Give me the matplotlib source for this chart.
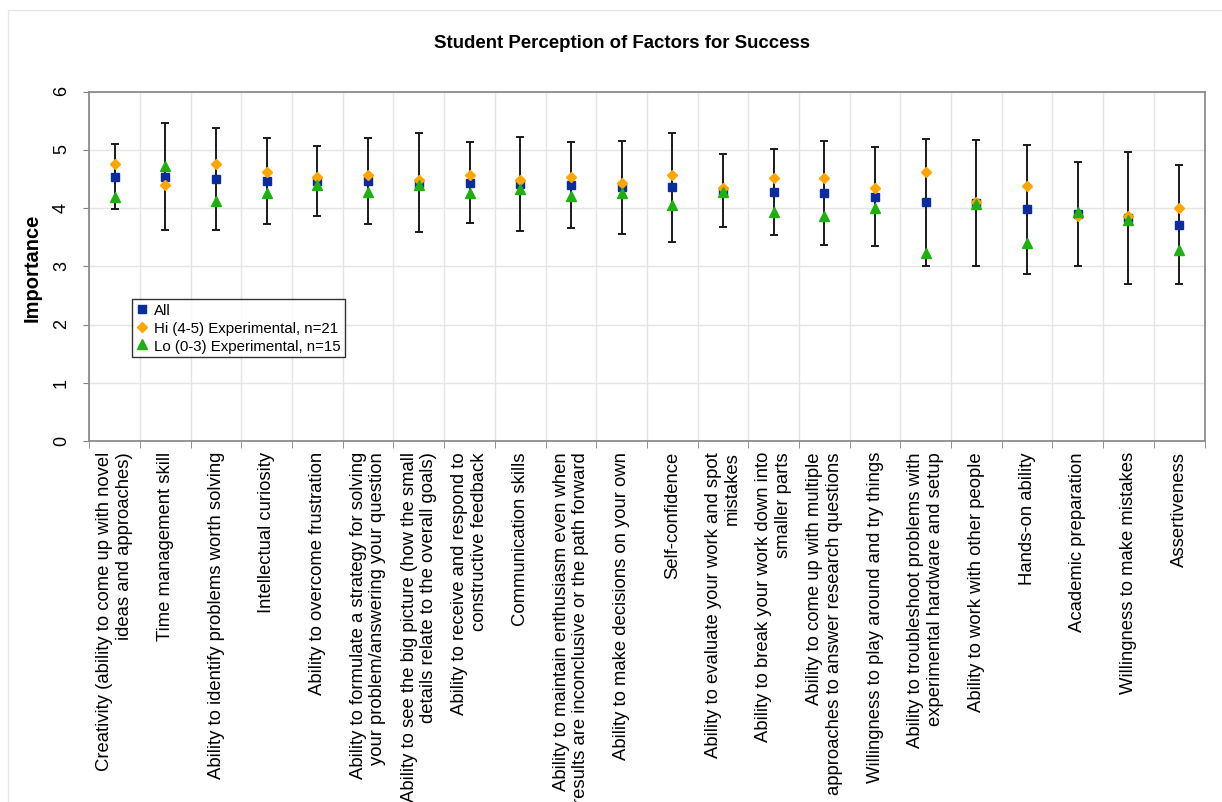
import numpy as np
import matplotlib
matplotlib.use("Agg")
import matplotlib.pyplot as plt
from matplotlib.patches import Rectangle

plt.rcParams['font.family'] = ['Liberation Sans', 'DejaVu Sans']

factors = [
    "Creativity (ability to come up with novel\nideas and approaches)",
    "Time management skill",
    "Ability to identify problems worth solving",
    "Intellectual curiosity",
    "Ability to overcome frustration",
    "Ability to formulate a strategy for solving\nyour problem/answering your question",
    "Ability to see the big picture (how the small\ndetails relate to the overall goals)",
    "Ability to receive and respond to\nconstructive feedback",
    "Communication skills",
    "Ability to maintain enthusiasm even when\nresults are inconclusive or the path forward",
    "Ability to make decisions on your own",
    "Self-confidence",
    "Ability to evaluate your work and spot\nmistakes",
    "Ability to break your work down into\nsmaller parts",
    "Ability to come up with multiple\napproaches to answer research questions",
    "Willingness to play around and try things",
    "Ability to troubleshoot problems with\nexperimental hardware and setup",
    "Ability to work with other people",
    "Hands-on ability",
    "Academic preparation",
    "Willingness to make mistakes",
    "Assertiveness",
]

all_mean = [4.54, 4.54, 4.50, 4.47, 4.47, 4.47, 4.44, 4.44, 4.42, 4.40, 4.36,
            4.36, 4.30, 4.28, 4.26, 4.20, 4.10, 4.09, 3.98, 3.90, 3.83, 3.72]
all_sd = [0.56, 0.92, 0.875, 0.735, 0.605, 0.74, 0.85, 0.70, 0.81, 0.735, 0.80,
          0.935, 0.625, 0.74, 0.89, 0.85, 1.085, 1.08, 1.105, 0.89, 1.135, 1.015]
hi_mean = [4.76, 4.39, 4.76, 4.62, 4.53, 4.57, 4.48, 4.57, 4.48, 4.53, 4.43,
           4.57, 4.34, 4.52, 4.52, 4.34, 4.62, 4.11, 4.38, 3.86, 3.87, 4.00]
lo_mean = [4.20, 4.73, 4.12, 4.26, 4.40, 4.28, 4.40, 4.26, 4.33, 4.21, 4.26,
           4.06, 4.27, 3.93, 3.86, 4.00, 3.23, 4.07, 3.40, 3.93, 3.79, 3.28]

x = np.arange(len(factors))

fig = plt.figure(figsize=(12.22, 8.03), dpi=100)
ax = fig.add_axes([0.0731, 0.4492, 0.9126, 0.4354])

# faint chart-area border
fig.patches.append(Rectangle((8 / 1222, -0.1), 1.2, 1 - 11 / 803 + 0.1,
                             transform=fig.transFigure, fill=False,
                             edgecolor='#e6e6e6', linewidth=1.0, zorder=0))

ax.errorbar(x, all_mean, yerr=all_sd, fmt='none', ecolor='#1a1a1a',
            elinewidth=1.4, capsize=2.7, capthick=1.4, zorder=2)
ax.plot(x, all_mean, 's', color='#0a2c9c', markersize=6.3, label='All', zorder=3)
ax.plot(x, hi_mean, 'D', color='#ffa500', markersize=5,
        label='Hi (4-5) Experimental, n=21', zorder=4)
ax.plot(x, lo_mean, '^', color='#1eb010', markersize=6.8,
        label='Lo (0-3) Experimental, n=15', zorder=5)

ax.set_xlim(-0.5, len(factors) - 0.5)
ax.set_ylim(0, 6)
ax.set_yticks(range(7))
ax.set_xticks(x)
ax.set_xticklabels(factors, rotation=90, fontsize=13.3, ha='center', va='top',
                   multialignment='right', linespacing=1.2)
ax.tick_params(axis='x', length=0, pad=7)
ax.set_xticks(np.arange(-0.5, len(factors)), minor=True)
ax.tick_params(axis='x', which='minor', length=5, color='#808080')
ax.tick_params(axis='y', length=4, color='#808080', labelsize=13,
               labelrotation=90, pad=10)

ax.grid(which='minor', axis='x', color='#e4e4e4', linewidth=1)
ax.grid(which='major', axis='y', color='#e4e4e4', linewidth=1)
ax.set_axisbelow(True)
for s in ax.spines.values():
    s.set_color('#8c8c8c')
    s.set_linewidth(1.3)

fig.text(622 / 1222, 1 - 43 / 803, 'Student Perception of Factors for Success',
         fontsize=13.4, fontweight='bold', ha='center', va='center')
fig.text(32 / 1222, 1 - 268 / 803, 'Importance', fontsize=14.5,
         fontweight='bold', rotation=90, ha='center', va='center')

leg = ax.legend(loc='upper left', bbox_to_anchor=(0.038, 0.408), fontsize=10.8,
                frameon=True, fancybox=False, borderpad=0.3, labelspacing=0.25,
                handlelength=0.8, handletextpad=0.4, borderaxespad=0)
leg.get_frame().set_edgecolor('black')
leg.get_frame().set_linewidth(1.0)

fig.savefig('out.png', dpi=100)
